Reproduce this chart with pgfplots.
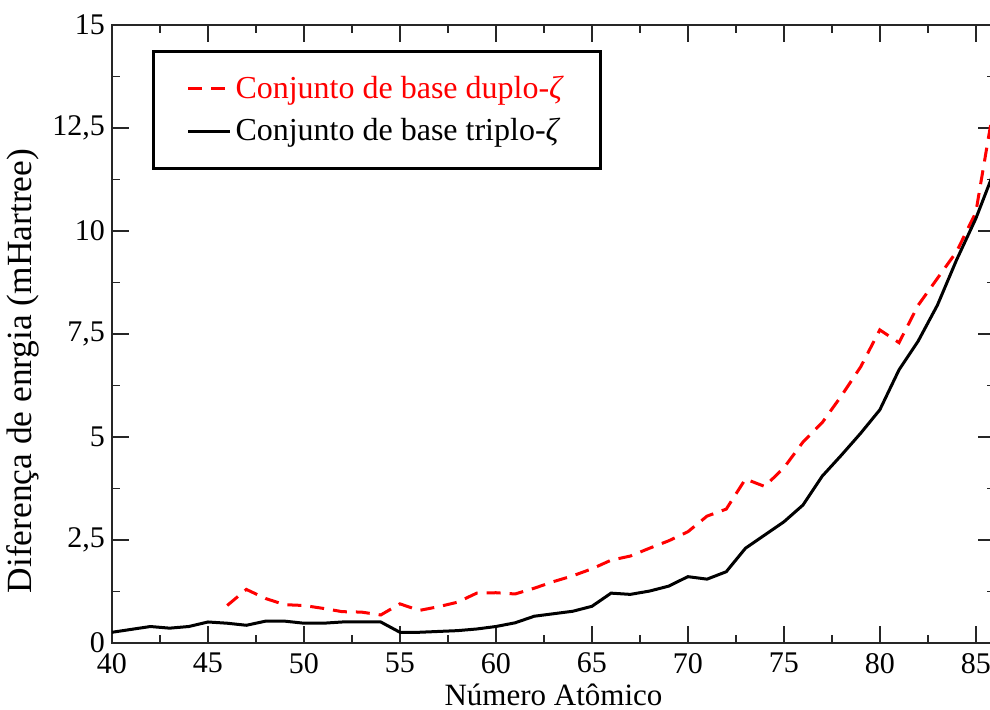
\documentclass[border=0pt]{standalone}
\usepackage{fontspec}
\setmainfont{Liberation Serif}
\usepackage{pgfplots}
\pgfplotsset{compat=1.18}

\pgfplotstableread{
Z v
46 0.91
47 1.30
48 1.08
49 0.93
50 0.91
51 0.84
52 0.76
53 0.75
54 0.68
55 0.95
56 0.79
57 0.88
58 0.99
59 1.21
60 1.22
61 1.19
62 1.33
63 1.49
64 1.63
65 1.80
66 2.01
67 2.11
68 2.30
69 2.48
70 2.70
71 3.08
72 3.25
73 3.98
74 3.80
75 4.25
76 4.88
77 5.35
78 6.00
79 6.70
80 7.60
81 7.29
82 8.20
83 8.85
84 9.50
85 10.45
86 13.2
}\duplo

\pgfplotstableread{
Z v
40 0.26
41 0.33
42 0.40
43 0.36
44 0.40
45 0.51
46 0.48
47 0.43
48 0.53
49 0.53
50 0.48
51 0.48
52 0.51
53 0.51
54 0.51
55 0.26
56 0.26
57 0.28
58 0.30
59 0.34
60 0.40
61 0.49
62 0.65
63 0.71
64 0.77
65 0.89
66 1.21
67 1.18
68 1.26
69 1.38
70 1.61
71 1.55
72 1.73
73 2.30
74 2.62
75 2.94
76 3.35
77 4.05
78 4.56
79 5.09
80 5.66
81 6.63
82 7.33
83 8.20
84 9.30
85 10.30
86 11.50
}\triplo

\begin{document}
\begin{tikzpicture}
\begin{axis}[
  name=ax,
  scale only axis,
  width=441.5pt, height=309pt,
  xmin=40, xmax=86, ymin=0, ymax=15,
  xtick={40,45,...,85},
  ytick={0,2.5,5,7.5,10,12.5,15},
  yticklabels={0,{2,5},5,{7,5},10,{12,5},15},
  minor x tick num=1, minor y tick num=1,
  major tick length=8.5pt, minor tick length=4pt,
  tick style={line width=0.9pt, color=black!85},
  axis line style={line width=1pt, color=black!85},
  /pgf/number format/assume math mode=true,
  font=\fontsize{15}{18}\selectfont,
  ticklabel style={font=\fontsize{15}{18}\selectfont},
  xticklabel style={yshift=-1.5pt},
  xlabel={Número Atômico},
  ylabel={Diferença de enrgia (mHartree)},
  xlabel style={font=\fontsize{15.5}{18}\selectfont, yshift=1.5pt},
  ylabel style={font=\fontsize{17.7}{20}\selectfont, at={(ticklabel cs:0.44)}},
  legend cell align=left,
  legend style={
    at={(0.0453,0.9595)}, anchor=north west,
    draw=black, line width=1.5pt,
    font=\fontsize{16}{19}\selectfont,
    inner xsep=16.5pt, inner ysep=10.25pt,
    row sep=4.5pt,
    nodes={inner ysep=2pt},
  },
]
\addplot[red, line width=1.5pt, dash pattern=on 7pt off 4.5pt,
  legend image code/.code={\draw[red, line width=1.5pt, dash pattern=on 4.5pt off 6.5pt] (2pt,0pt) -- (17.5pt,0pt); \path (0pt,0pt) -- (21pt,0pt);}]
  table[x=Z, y=v] {\duplo};
\addlegendentry{\textcolor{red}{Conjunto de base duplo-\textit{ζ}}}
\addplot[black, line width=1.5pt,
  legend image code/.code={\draw[black, line width=1.5pt] (2pt,0pt) -- (11.5pt,0pt); \path (0pt,0pt) -- (21pt,0pt);}]
  table[x=Z, y=v] {\triplo};
\addlegendentry{Conjunto de base triplo-\textit{ζ}}
\end{axis}
\pgfresetboundingbox
\path ([xshift=-56pt,yshift=-33.5pt]ax.south west) rectangle ([xshift=-2.5pt,yshift=12.5pt]ax.north east);
\end{tikzpicture}
\end{document}
